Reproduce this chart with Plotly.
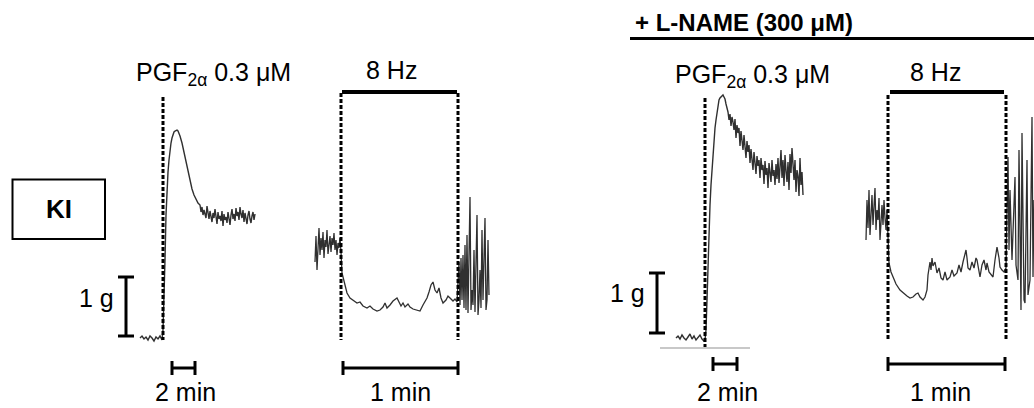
import plotly.graph_objects as go

# ---------------- data (page units: x -> time, y -> tension) -------------
# Left panel (control, KI): PGF2a contraction trace
ki_pgf_x = [140,142,144,146,148,150,152,154,156,158,160,162,
            163,164,165,166,167,168,169,170,171,172,173,174,175,176,177,178,179,180,
            182,184,186,188,190,192,194,196,198,
            200,201,202,203,204,205,206,207,208,209,210,211,212,213,214,215,216,217,218,219,
            220,221,222,223,224,225,226,227,228,229,230,231,232,233,234,235,236,237,238,239,
            240,241,242,243,244,245,246,247,248,249,250,251,252,253,254,255]
ki_pgf_y = [338,336,339,337,340,336,338,341,337,339,336,340,
            330,300,260,215,190,172,160,150,143,138,134,132,131,130,130,131,133,136,
            143,152,163,173,182,189,195,199,203,
            205,212,207,215,210,213,218,206,214,219,211,216,222,213,218,209,215,224,212,219,
            216,221,211,226,214,220,217,223,212,218,225,215,209,219,214,221,208,216,212,220,
            207,214,218,210,222,213,217,224,215,211,219,223,216,212,220,214]

# Left panel: 8 Hz EFS trace (before / during / after)
ki_efs_x = [315,316,317,318,319,320,321,322,323,324,325,326,327,328,329,330,331,332,333,334,
            335,336,337,338,339,340,341,
            342,345,347,350,353,357,360,363,367,370,373,377,380,383,385,387,390,393,397,399,
            401,403,405,408,410,413,417,420,423,425,427,429,431,433,435,437,439,441,443,446,
            448,450,453,455,457,
            459,460,461,462,463,464,465,466,467,468,470,471,472,473,474,475,477,478,479,480,
            481,482,483,485,486,487,488,489]
ki_efs_y = [262,236,270,244,228,255,238,250,232,258,240,247,230,254,242,236,252,238,245,233,
            250,240,255,243,248,238,252,
            273,285,293,298,300,303,302,306,308,306,309,311,310,307,303,308,305,301,298,302,
            306,303,307,304,307,309,310,311,305,301,298,292,285,282,290,293,288,298,303,300,
            296,298,301,299,302,
            262,305,258,300,255,308,245,310,235,313,197,310,290,305,250,312,215,315,300,270,
            308,230,300,218,310,300,240,295]

# Right panel (+ L-NAME): PGF2a contraction trace
ln_pgf_x = [676,678,680,682,684,686,688,690,692,694,696,698,700,702,704,
            705,706,707,708,709,710,711,712,713,714,715,716,717,718,719,720,721,722,723,724,
            725,726,727,
            728,729,730,731,732,733,734,735,736,737,738,739,740,741,742,743,744,745,746,747,
            748,749,750,751,752,753,754,755,756,757,758,759,760,761,762,763,764,765,766,767,
            768,769,770,771,772,773,774,775,776,777,778,779,780,781,782,783,784,785,786,787,
            788,789,790,791,792,793,794,795,796,797,798,799,800,801,802,803]
ln_pgf_y = [338,336,339,335,338,340,337,334,339,336,340,337,335,339,341,
            340,330,300,263,235,205,185,168,152,138,128,120,112,105,100,98,97,96,95,97,
            99,104,108,
            112,120,114,126,117,122,130,119,138,125,133,128,146,131,140,150,135,147,158,141,
            152,145,163,149,157,170,152,161,174,156,166,160,178,158,170,165,184,161,175,168,
            188,163,172,182,160,176,170,185,164,179,158,183,167,150,178,160,186,155,171,182,
            162,190,154,173,148,168,180,160,192,170,176,196,158,185,172,195]

# Right panel: 8 Hz EFS trace (before / during / after)
ln_efs_x = [866,867,868,869,870,871,872,873,874,875,876,877,878,879,880,881,882,883,884,885,
            886,887,888,
            889,891,893,896,900,903,907,910,913,916,918,920,923,925,927,928,929,930,931,932,
            933,935,937,939,941,943,945,947,950,952,954,957,959,961,963,965,966,967,968,970,
            972,974,976,977,979,980,982,984,986,987,989,991,993,995,997,999,1000,1002,1004,1006,
            1008,1009,1010,1012,1013,1015,1016,1018,1019,1021,1022,1024,1025,1027,1028,1030,
            1032,1033,1034]
ln_efs_y = [240,200,228,190,235,212,195,225,205,188,230,210,220,198,240,215,205,225,200,218,
            230,210,238,
            263,272,277,284,290,293,296,298,297,294,293,297,300,297,290,275,268,262,270,258,
            266,262,273,268,278,280,272,280,277,270,276,273,265,272,262,255,250,258,268,270,
            262,268,258,260,270,277,265,260,270,263,272,275,277,260,247,258,267,270,272,268,
            157,250,190,260,237,177,265,280,150,310,133,300,303,160,295,280,
            117,277,200]

# text labels
drug_label = "PGF<sub>2α</sub> 0.3 μM"
stim_label = "8 Hz"
group_label = "KI"
treatment_label = "+ L-NAME (300 μM)"
force_label = "1 g"
slow_time_label = "2 min"
fast_time_label = "1 min"

# ---------------- figure ----------------
FONT = "Liberation Sans, Arial, sans-serif"
fig = go.Figure()

trace_color = "#303030"
for xs, ys, w in [(ki_pgf_x, ki_pgf_y, 1.4), (ki_efs_x, ki_efs_y, 1.3),
                  (ln_pgf_x, ln_pgf_y, 1.4), (ln_efs_x, ln_efs_y, 1.3)]:
    fig.add_trace(go.Scatter(x=xs, y=ys, mode="lines",
                             line=dict(color=trace_color, width=w),
                             hoverinfo="skip", showlegend=False))

shapes = []
def line(x0, y0, x1, y1, w=3, dash=None, color="black"):
    d = dict(type="line", x0=x0, y0=y0, x1=x1, y1=y1,
             line=dict(color=color, width=w))
    if dash:
        d["line"]["dash"] = dash
    shapes.append(d)

DOT = "4px,2px"
# dotted event lines
line(163, 97, 163, 340, 3, DOT)
line(341, 93, 341, 340, 3, DOT)
line(458, 93, 458, 340, 3, DOT)
line(705, 98, 705, 347, 3, DOT)
line(888, 95, 888, 340, 3, DOT)
line(1006, 95, 1006, 340, 3, DOT)
# stimulation bars
line(342, 92, 457, 92, 4)
line(890, 92, 1004, 92, 4)
# L-NAME bar
line(630, 38.5, 1034, 38.5, 3)
# faint baseline under right trace
line(660, 348, 750, 348, 2, None, "#c8c8c8")
# force scale bars
for xb, y0, y1 in [(126, 277, 336), (657, 273, 333)]:
    line(xb, y0, xb, y1, 3)
    line(xb - 8, y0, xb + 8, y0, 3)
    line(xb - 8, y1, xb + 8, y1, 3)
# time scale bars
for x0, x1, yb in [(172, 195, 368), (343, 458, 368), (713, 737, 364), (888, 1005, 364)]:
    line(x0, yb, x1, yb, 3)
    line(x0, yb - 7, x0, yb + 7, 3)
    line(x1, yb - 7, x1, yb + 7, 3)
# KI box
shapes.append(dict(type="rect", x0=12.5, y0=179.5, x1=105, y1=239,
                   line=dict(color="black", width=2), fillcolor="rgba(0,0,0,0)"))

annotations = []
def txt(x, y, s, size=24, bold=False, xanchor="center"):
    annotations.append(dict(x=x, y=y, xref="x", yref="y", text=(f"<b>{s}</b>" if bold else s),
                            showarrow=False, xanchor=xanchor, yanchor="middle",
                            font=dict(family=FONT, size=size, color="black")))

txt(213, 74, drug_label, 25)
txt(752, 76, drug_label, 25)
txt(391, 70, stim_label, 25)
txt(935, 72, stim_label, 25)
txt(58.5, 209, group_label, 26, True)
txt(633, 22, treatment_label, 24, True, "left")
txt(96, 298, force_label, 25)
txt(627, 293, force_label, 25)
txt(185, 392, slow_time_label, 25)
txt(400, 392, fast_time_label, 25)
txt(727, 392, slow_time_label, 25)
txt(940, 392, fast_time_label, 25)

fig.update_layout(
    width=1034, height=408,
    margin=dict(l=0, r=0, t=0, b=0),
    paper_bgcolor="white", plot_bgcolor="white",
    xaxis=dict(range=[0, 1034], visible=False, fixedrange=True),
    yaxis=dict(range=[408, 0], visible=False, fixedrange=True),
    shapes=shapes, annotations=annotations,
)

fig.write_html("out.html")
